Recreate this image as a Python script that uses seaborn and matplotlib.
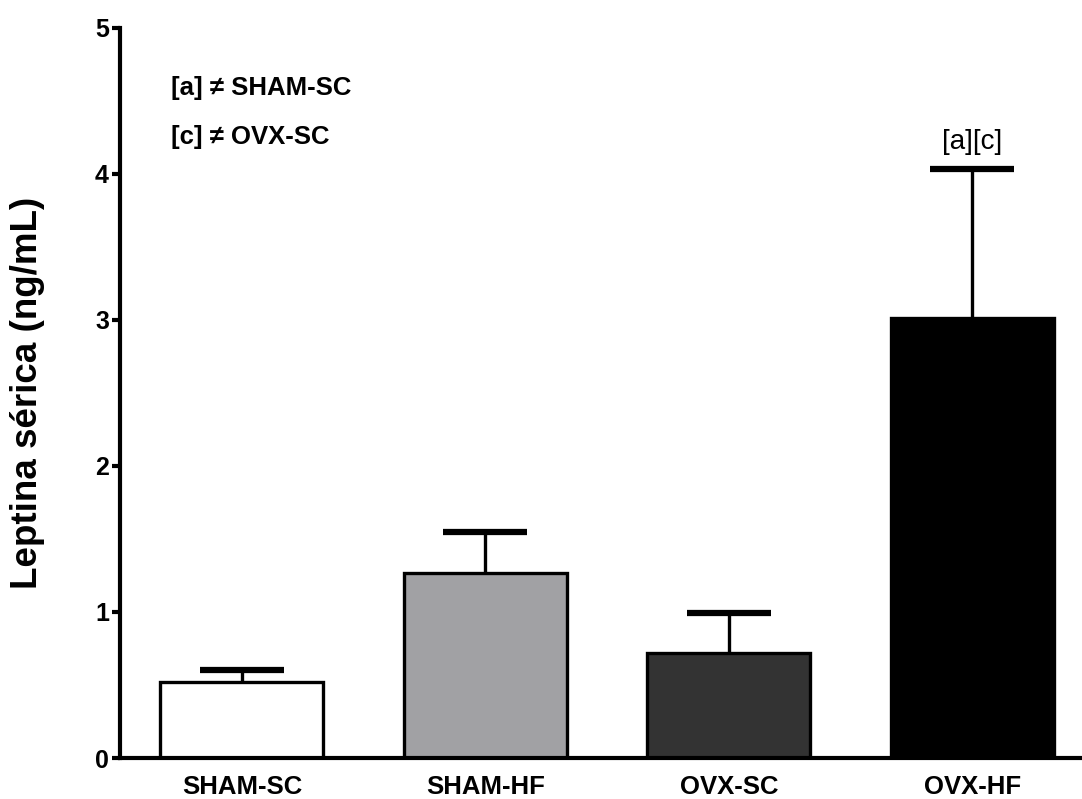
import numpy as np
import pandas as pd
import seaborn as sns
import matplotlib.pyplot as plt

# values
groups = ["SHAM-SC", "SHAM-HF", "OVX-SC", "OVX-HF"]
means = [0.52, 1.27, 0.72, 3.01]
sem = [0.08, 0.28, 0.27, 1.02]
bar_colors = ["#ffffff", "#a1a0a5", "#333333", "#000000"]
y_ticks = [0, 1, 2, 3, 4, 5]
legend_lines = ["[a] \u2260 SHAM-SC", "[c] \u2260 OVX-SC"]
sig_label = "[a][c]"

df = pd.DataFrame({"group": groups, "leptina": means, "sem": sem})

sns.set_style("ticks", {"axes.edgecolor": "black", "text.color": "black",
                        "xtick.color": "black", "ytick.color": "black",
                        "axes.labelcolor": "black"})
plt.rcParams['font.family'] = ['Liberation Sans', 'DejaVu Sans']

fig = plt.figure(figsize=(10.82, 7.99), dpi=100)
ax = fig.add_axes([0.111, 0.0513, 0.889, 0.914])

sns.barplot(data=df, x="group", y="leptina", hue="group",
            palette=dict(zip(groups, bar_colors)), edgecolor="black",
            linewidth=2.4, width=0.67, legend=False, errorbar=None, ax=ax)

# upper-only error bars
lower = np.zeros(len(means))
_, caps, bars = ax.errorbar(np.arange(len(groups)), df["leptina"],
                            yerr=[lower, df["sem"]], fmt="none",
                            ecolor="black", elinewidth=2.4, capsize=30,
                            capthick=4.5, zorder=1)
for c in caps:
    if np.allclose(c.get_ydata(), means):
        c.set_visible(False)
    c.set_solid_capstyle("round")

ax.set_ylim(0, 5)
ax.set_xlim(-0.5, 3.45)
ax.set_yticks(y_ticks)
ax.set_yticklabels([str(t) for t in y_ticks], fontsize=18, fontweight="bold")
ax.set_xticks(range(len(groups)))
ax.set_xticklabels(groups, fontsize=18.5, fontweight="bold")
ax.tick_params(axis="y", length=6, width=3, pad=2)
ax.tick_params(axis="x", length=0, pad=12)
ax.set_xlabel("")
ax.set_ylabel("Leptina sérica (ng/mL)", fontsize=26.5, fontweight="bold")
ax.yaxis.set_label_coords(-0.078, 0.5)

sns.despine(ax=ax)
ax.spines["left"].set_linewidth(3)
ax.spines["bottom"].set_linewidth(3)

for i, txt in enumerate(legend_lines):
    ax.text(-0.29, 4.59 - i * 0.34, txt, fontsize=18.5, fontweight="bold",
            ha="left", va="center")

ax.text(3, means[3] + sem[3] + 0.19, sig_label, fontsize=20,
        ha="center", va="center")

fig.savefig("out.png", dpi=100)
